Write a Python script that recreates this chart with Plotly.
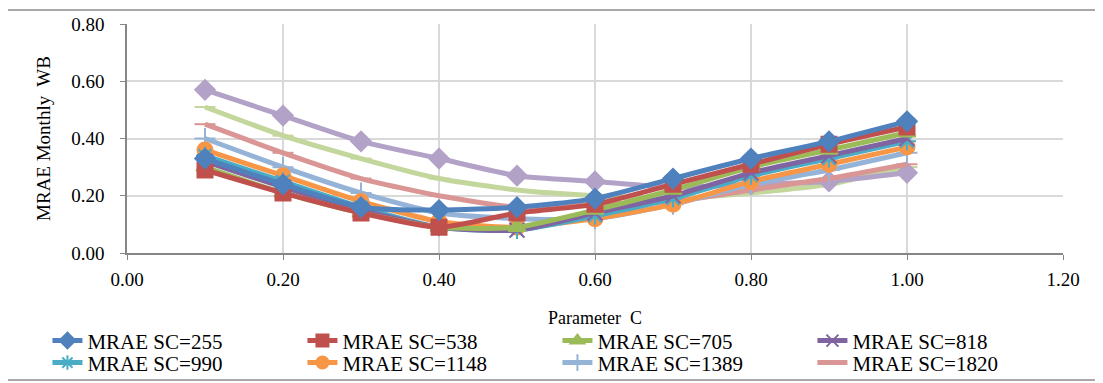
import plotly.graph_objects as go

param_c = [0.1, 0.2, 0.3, 0.4, 0.5, 0.6, 0.7, 0.8, 0.9, 1.0]

sc_255 = [0.33, 0.24, 0.16, 0.15, 0.16, 0.19, 0.26, 0.33, 0.39, 0.46]
sc_538 = [0.29, 0.21, 0.14, 0.09, 0.14, 0.17, 0.24, 0.31, 0.38, 0.44]
sc_705 = [0.30, 0.21, 0.14, 0.09, 0.09, 0.15, 0.22, 0.30, 0.36, 0.42]
sc_818 = [0.32, 0.23, 0.15, 0.09, 0.08, 0.14, 0.20, 0.28, 0.34, 0.40]
sc_990 = [0.34, 0.25, 0.16, 0.09, 0.08, 0.13, 0.19, 0.27, 0.33, 0.39]
sc_1148 = [0.36, 0.27, 0.18, 0.11, 0.09, 0.12, 0.17, 0.25, 0.31, 0.37]
sc_1389 = [0.40, 0.30, 0.21, 0.14, 0.12, 0.12, 0.17, 0.24, 0.29, 0.35]
sc_1820 = [0.45, 0.35, 0.26, 0.20, 0.16, 0.17, 0.18, 0.22, 0.26, 0.31]
sc_extra1 = [0.57, 0.48, 0.39, 0.33, 0.27, 0.25, 0.23, 0.24, 0.25, 0.28]
sc_extra2 = [0.51, 0.41, 0.33, 0.26, 0.22, 0.20, 0.19, 0.21, 0.24, 0.30]

# name, values, colour, marker, legend row (None = not in legend)
series = [
    ("MRAE SC=255", sc_255, "#4F81BD", "diamond", "legend"),
    ("MRAE SC=538", sc_538, "#C0504D", "square", "legend"),
    ("MRAE SC=705", sc_705, "#9BBB59", "triangle-up", "legend"),
    ("MRAE SC=818", sc_818, "#8064A2", "x-thin", "legend"),
    ("MRAE SC=990", sc_990, "#4BACC6", "asterisk", "legend2"),
    ("MRAE SC=1148", sc_1148, "#F79646", "circle", "legend2"),
    ("MRAE SC=1389", sc_1389, "#95B3D7", "cross-thin", "legend2"),
    ("MRAE SC=1820", sc_1820, "#D99694", "line-ew", "legend2"),
    ("MRAE SC=extra1", sc_extra1, "#B3A2C7", "diamond", None),
    ("MRAE SC=extra2", sc_extra2, "#C3D69B", "line-ew", None),
]

fig = go.Figure()
for name, vals, color, sym, leg in reversed(series):
    fig.add_trace(go.Scatter(
        x=param_c, y=vals, name=name, mode="lines+markers",
        line=dict(color=color, width=5, shape="spline", smoothing=0.6),
        marker=dict(symbol=sym, size=15, color=color,
                    line=dict(color=color, width=2)),
        showlegend=leg is not None,
        legend=leg or "legend",
    ))

font = "'Liberation Serif', 'Times New Roman', Times, serif"
leg_common = dict(orientation="h", x=-0.085, xanchor="left", yanchor="middle",
                  entrywidth=210, entrywidthmode="pixels", itemsizing="constant",
                  traceorder="reversed", font=dict(family=font, size=21),
                  bgcolor="rgba(0,0,0,0)")
# page body has an 8px margin, so the figure is a bit smaller than the window
fig.update_layout(
    width=1095, height=375,
    margin=dict(l=119, r=40, t=16, b=130, autoexpand=False),
    plot_bgcolor="white", paper_bgcolor="white",
    font=dict(family=font, size=19, color="black"),
    legend=dict(y=-0.384, **leg_common),
    legend2=dict(y=-0.48, **leg_common),
    shapes=[dict(type="rect", xref="paper", yref="paper",
                 x0=-0.128, x1=1.036, y0=-0.555, y1=1.061,
                 line=dict(color="#8C8C8C", width=1.5))],
)
fig.update_xaxes(range=[0, 1.2], dtick=0.2, tickformat=".2f",
                 showgrid=True, gridcolor="#D9D9D9", gridwidth=1.5,
                 showline=True, linecolor="#868686", linewidth=1.5,
                 ticks="outside", ticklen=5, tickcolor="#868686",
                 zeroline=False, ticklabelstandoff=3,
                 title=dict(text="Parameter  C", standoff=23,
                            font=dict(family=font, size=18)))
fig.update_yaxes(range=[0, 0.8], dtick=0.2, tickformat=".2f",
                 showgrid=True, gridcolor="#D9D9D9", gridwidth=1.5,
                 showline=True, linecolor="#868686", linewidth=1.5,
                 ticks="outside", ticklen=5, tickcolor="#868686",
                 zeroline=False, ticklabelstandoff=12,
                 title=dict(text="MRAE Monthly  WB", standoff=16,
                            font=dict(family=font, size=19)))

fig.write_html("out.html")
